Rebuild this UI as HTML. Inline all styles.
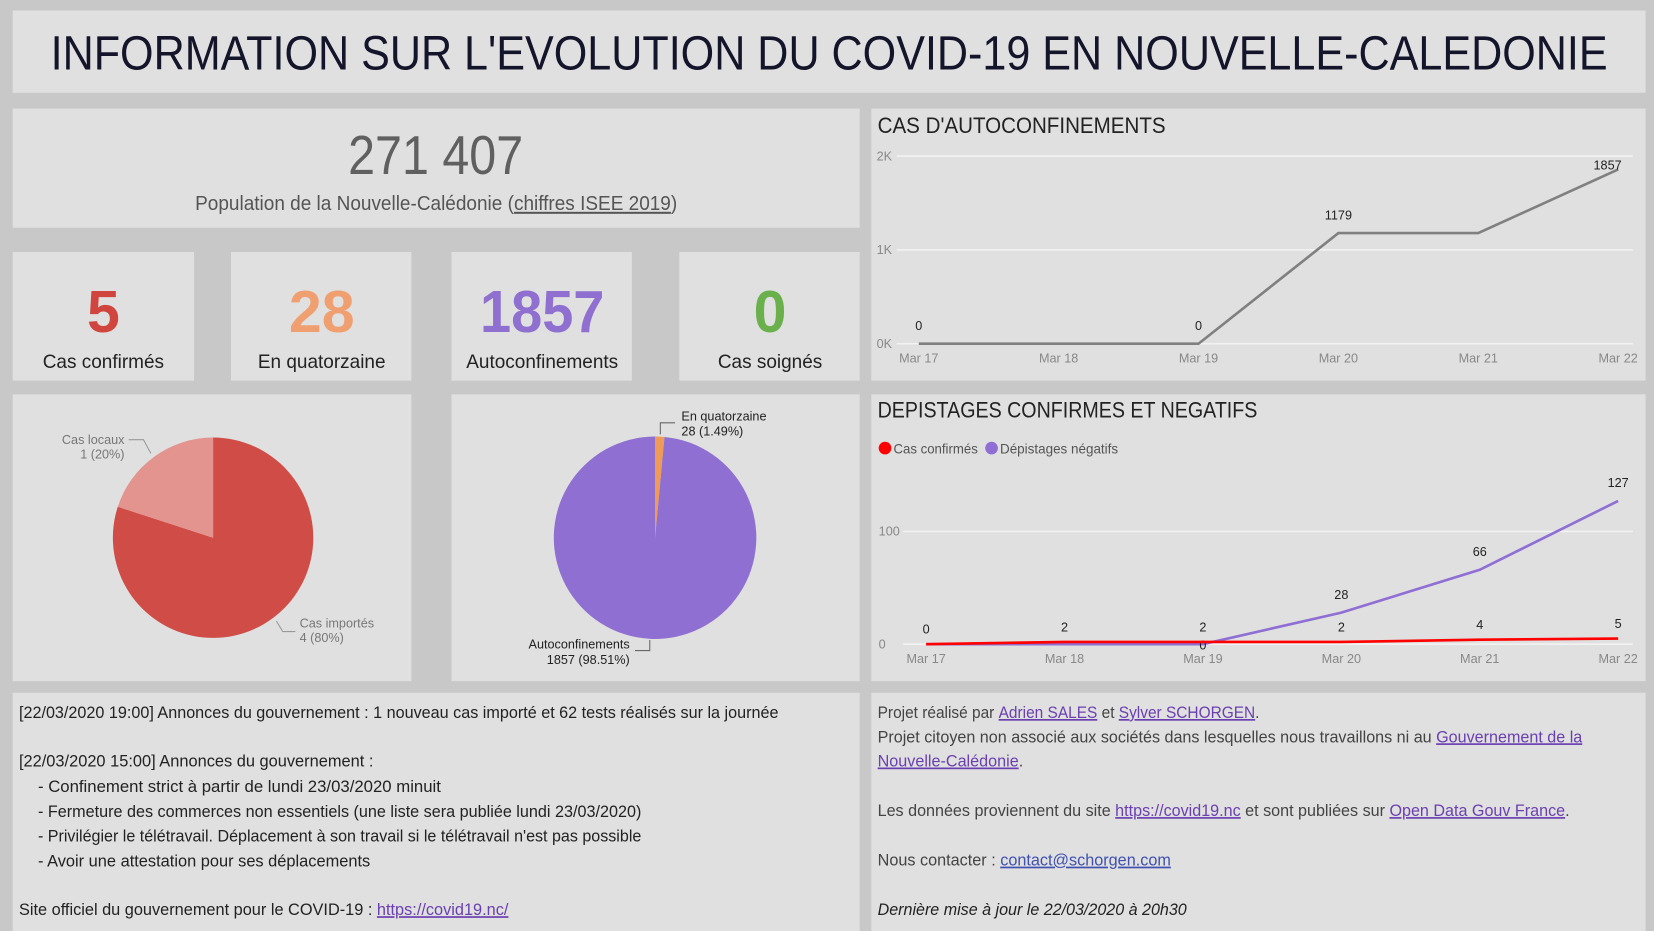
<!DOCTYPE html>
<html><head><meta charset="utf-8"><style>
html,body{margin:0;padding:0;background:#c8c8c8;}
svg{display:block;font-family:"Liberation Sans",sans-serif;}
.lk{text-decoration:underline;}
</style></head><body>
<svg id="s" width="1654" height="931" viewBox="0 0 1568 883" preserveAspectRatio="none">
<rect x="0" y="0" width="1568" height="883" fill="#c8c8c8"/>
<g>
<rect x="12" y="10" width="1548" height="78" fill="#e0e0e0"/>
<text x="786" y="66" text-anchor="middle" font-size="46" fill="#14142b" textLength="1476" lengthAdjust="spacingAndGlyphs">INFORMATION SUR L'EVOLUTION DU COVID-19 EN NOUVELLE-CALEDONIE</text>
</g>
<g>
<rect x="12" y="103" width="803" height="113" fill="#e0e0e0"/>
<text x="413" y="165" text-anchor="middle" font-size="52" fill="#606060" textLength="166" lengthAdjust="spacingAndGlyphs">271 407</text>
<text x="185" y="199" font-size="19" fill="#555" textLength="457" lengthAdjust="spacingAndGlyphs">Population de la Nouvelle-Calédonie (<tspan class="lk">chiffres ISEE 2019</tspan>)</text>
</g>
<g>
<g><rect x="12" y="239" width="172" height="122" fill="#e0e0e0"/>
<text x="98" y="315" text-anchor="middle" font-size="56" font-weight="bold" fill="#d0463f">5</text>
<text x="98" y="349" text-anchor="middle" font-size="18" fill="#222">Cas confirmés</text></g>
<g><rect x="219" y="239" width="171" height="122" fill="#e0e0e0"/>
<text x="305" y="315" text-anchor="middle" font-size="56" font-weight="bold" fill="#f0a070">28</text>
<text x="305" y="349" text-anchor="middle" font-size="18" fill="#222">En quatorzaine</text></g>
<g><rect x="428" y="239" width="171" height="122" fill="#e0e0e0"/>
<text x="514" y="315" text-anchor="middle" font-size="56" font-weight="bold" fill="#8f6fd0" textLength="118" lengthAdjust="spacingAndGlyphs">1857</text>
<text x="514" y="349" text-anchor="middle" font-size="18" fill="#222">Autoconfinements</text></g>
<g><rect x="644" y="239" width="171" height="122" fill="#e0e0e0"/>
<text x="730" y="315" text-anchor="middle" font-size="56" font-weight="bold" fill="#6ab04c">0</text>
<text x="730" y="349" text-anchor="middle" font-size="18" fill="#222">Cas soignés</text></g>
</g>
<rect x="12" y="374" width="378" height="272" fill="#e0e0e0"/>
<rect x="428" y="374" width="387" height="272" fill="#e0e0e0"/>
<g id="pie1"></g>
<g id="pie2"></g>
<g font-size="12">
<text x="118" y="421" text-anchor="end" fill="#777">Cas locaux</text>
<text x="118" y="435" text-anchor="end" fill="#777">1 (20%)</text>
<polyline points="122,417 136,417 143,430" fill="none" stroke="#999"/>
<text x="284" y="595" fill="#777">Cas importés</text>
<text x="284" y="609" fill="#777">4 (80%)</text>
<polyline points="262,589 268,599 280,599" fill="none" stroke="#999"/>
<text x="646" y="399" fill="#222">En quatorzaine</text>
<text x="646" y="413" fill="#222">28 (1.49%)</text>
<polyline points="626,412 626,401 640,401" fill="none" stroke="#666"/>
<text x="597" y="615" text-anchor="end" fill="#222">Autoconfinements</text>
<text x="597" y="630" text-anchor="end" fill="#222">1857 (98.51%)</text>
<polyline points="602,617 616,617 616,607" fill="none" stroke="#666"/>
</g>
<rect x="826" y="103" width="734" height="258" fill="#e0e0e0"/>
<text x="832" y="126" font-size="21" fill="#222" textLength="273" lengthAdjust="spacingAndGlyphs">CAS D'AUTOCONFINEMENTS</text>
<g id="c1"></g>
<rect x="826" y="374" width="734" height="272" fill="#e0e0e0"/>
<text x="832" y="396" font-size="21" fill="#222" textLength="360" lengthAdjust="spacingAndGlyphs">DEPISTAGES CONFIRMES ET NEGATIFS</text>
<g>
<circle cx="839" cy="425" r="6" fill="#ff0000"/>
<text x="847" y="430" font-size="13" fill="#555" textLength="80" lengthAdjust="spacingAndGlyphs">Cas confirmés</text>
<circle cx="940" cy="425" r="6" fill="#8f6fd3"/>
<text x="948" y="430" font-size="13" fill="#555" textLength="112" lengthAdjust="spacingAndGlyphs">Dépistages négatifs</text>
</g>
<g id="c2"></g>
<g font-size="16" fill="#222">
<rect x="12" y="657" width="803" height="226" fill="#e0e0e0"/>
<text x="18" y="681" textLength="720" lengthAdjust="spacingAndGlyphs">[22/03/2020 19:00] Annonces du gouvernement : 1 nouveau cas importé et 62 tests réalisés sur la journée</text>
<text x="18" y="727" textLength="336" lengthAdjust="spacingAndGlyphs">[22/03/2020 15:00] Annonces du gouvernement :</text>
<text x="36" y="751" textLength="382" lengthAdjust="spacingAndGlyphs">- Confinement strict à partir de lundi 23/03/2020 minuit</text>
<text x="36" y="775" textLength="572" lengthAdjust="spacingAndGlyphs">- Fermeture des commerces non essentiels (une liste sera publiée lundi 23/03/2020)</text>
<text x="36" y="798" textLength="572" lengthAdjust="spacingAndGlyphs">- Privilégier le télétravail. Déplacement à son travail si le télétravail n'est pas possible</text>
<text x="36" y="822" textLength="315" lengthAdjust="spacingAndGlyphs">- Avoir une attestation pour ses déplacements</text>
<text x="18" y="868" textLength="464" lengthAdjust="spacingAndGlyphs">Site officiel du gouvernement pour le COVID-19 : <tspan class="lk" fill="#6a3fb0">https://covid19.nc/</tspan></text>
</g>
<g font-size="16" fill="#444">
<rect x="826" y="657" width="734" height="226" fill="#e0e0e0"/>
<text x="832" y="681" textLength="362" lengthAdjust="spacingAndGlyphs">Projet réalisé par <tspan class="lk" fill="#6a3fb0">Adrien SALES</tspan> et <tspan class="lk" fill="#6a3fb0">Sylver SCHORGEN</tspan>.</text>
<text x="832" y="704" textLength="668" lengthAdjust="spacingAndGlyphs">Projet citoyen non associé aux sociétés dans lesquelles nous travaillons ni au <tspan class="lk" fill="#6a3fb0">Gouvernement de la</tspan></text>
<text x="832" y="727" textLength="138" lengthAdjust="spacingAndGlyphs"><tspan class="lk" fill="#6a3fb0">Nouvelle-Calédonie</tspan>.</text>
<text x="832" y="774" textLength="656" lengthAdjust="spacingAndGlyphs">Les données proviennent du site <tspan class="lk" fill="#6a3fb0">https://covid19.nc</tspan> et sont publiées sur <tspan class="lk" fill="#6a3fb0">Open Data Gouv France</tspan>.</text>
<text x="832" y="821" textLength="278" lengthAdjust="spacingAndGlyphs">Nous contacter : <tspan class="lk" fill="#3f50b0">contact@schorgen.com</tspan></text>
<text x="832" y="868" font-style="italic" fill="#222" textLength="293" lengthAdjust="spacingAndGlyphs">Dernière mise à jour le 22/03/2020 à 20h30</text>
</g>
</svg>
<script>
const dates = ["Mar 17","Mar 18","Mar 19","Mar 20","Mar 21","Mar 22"];
const autoconfValues = [0, null, 0, 1179, 1179, 1857];
const autoconfLabels = ["0","","0","1179","","1857"];
const autoconfTicks = [0, 1000, 2000];
const autoconfTickLabels = ["0K","1K","2K"];
const confirmedValues = [0, 2, 2, 2, 4, 5];
const confirmedLabels = ["0","2","2","2","4","5"];
const negativeValues = [0, 0, 0, 28, 66, 127];
const negativeLabels = ["","","0","28","66","127"];
const depTicks = [0, 100];
const originNames = ["Cas importés","Cas locaux"];
const originValues = [4, 1];
const statusNames = ["En quatorzaine","Autoconfinements"];
const statusValues = [28, 1857];

const NS="http://www.w3.org/2000/svg";
function mk(parent,tag,attrs,txt){const e=document.createElementNS(NS,tag);for(const k in attrs)e.setAttribute(k,attrs[k]);if(txt!==undefined)e.textContent=txt;parent.appendChild(e);return e;}

function pie(gid,values,colors,cx,cy,r,names){
  const g=document.getElementById(gid);
  const tot=values.reduce((a,b)=>a+b,0);let a0=0;
  values.forEach((v,i)=>{
    const a1=a0+v/tot*2*Math.PI;
    const x0=cx+r*Math.sin(a0),y0=cy-r*Math.cos(a0),x1=cx+r*Math.sin(a1),y1=cy-r*Math.cos(a1);
    const large=(a1-a0)>Math.PI?1:0;
    const p=mk(g,"path",{d:`M${cx},${cy} L${x0},${y0} A${r},${r} 0 ${large} 1 ${x1},${y1} Z`,fill:colors[i]});
    
    
    a0=a1;
  });
}
pie("pie1",originValues,["#cf4d46","#e3948e"],202,510,95,originNames);
pie("pie2",statusValues,["#f09a58","#8f70d2"],621,510,96,statusNames);

function lineChart(gid,x0,x1,yOf,ticks,tickLabels,series,tickX,labY,gridX0,gridX1){
  const g=document.getElementById(gid);
  const xOf=i=>x0+(x1-x0)*i/(dates.length-1);
  ticks.forEach((t,i)=>{
    const l=mk(g,"line",{x1:gridX0,x2:gridX1,y1:yOf(t),y2:yOf(t),stroke:"#f2f2f2","stroke-width":1.5});
    
    
    const tx=mk(g,"text",{x:tickX,y:yOf(t)+4,"font-size":12,fill:"#888"},tickLabels[i]);
    
    
  });
  dates.forEach((d,i)=>{
    const tx=mk(g,"text",{x:xOf(i),y:labY,"text-anchor":"middle","font-size":12,fill:"#888"},d);
    
    
  });
  series.forEach(s=>{
    const pts=[];s.values.forEach((v,i)=>{const vv=v===null?s.values[i-1]:v;pts.push(xOf(i)+","+yOf(vv));});
    const pl=mk(g,"polyline",{points:pts.join(" "),fill:"none",stroke:s.color,"stroke-width":s.w});
    
    
    s.values.forEach((v,i)=>{
      const lab=s.labels[i];
      if(lab===""||v===null)return;
      const off=(s.offs&&s.offs[i]!==undefined)?s.offs[i]:s.off;
      const dx=(s.dxs&&s.dxs[i])?s.dxs[i]:0;
      const tx=mk(g,"text",{x:xOf(i)+dx,y:yOf(v)-off,"text-anchor":"middle","font-size":12,fill:"#222"},lab);
      
      
    });
  });
}
lineChart("c1",871,1534,v=>326-v*0.089,autoconfTicks,autoconfTickLabels,
  [{values:autoconfValues,labels:autoconfLabels,color:"#808080",w:2.5,name:"autoconf-line",off:13,offs:[13,13,13,13,13,0],dxs:[0,0,0,0,0,-10]}],
  831,344,850,1548);
lineChart("c2",878,1534,v=>611-v*1.07,depTicks,depTicks.map(String),
  [{values:negativeValues,labels:negativeLabels,color:"#8f6fd3",w:2.5,name:"negatifs-line",off:13,offs:[13,13,-5,13,13,13]},
   {values:confirmedValues,labels:confirmedLabels,color:"#ff0000",w:2.5,name:"confirmes-line",off:10}],
  833,629,856,1548);
</script>
</body></html>
